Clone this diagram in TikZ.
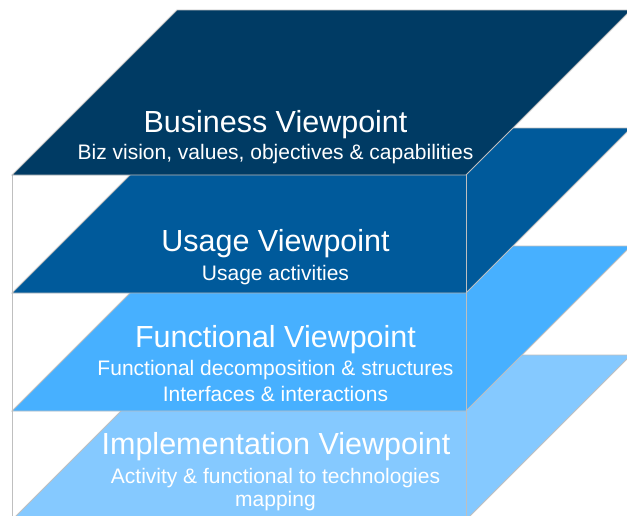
\documentclass[tikz,border=0pt]{standalone}
\usepackage{fontspec}
\setmainfont{Liberation Sans}
\definecolor{bizC}{RGB}{0,59,100}
\definecolor{useC}{RGB}{0,90,155}
\definecolor{funC}{RGB}{71,176,255}
\definecolor{impC}{RGB}{133,201,255}
\definecolor{edgeC}{RGB}{191,191,191}
\tikzset{
  layer/.style={draw=edgeC, line width=0.8pt, line join=miter},
  boxline/.style={draw=edgeC, line width=0.8pt},
  title/.style={text=white, anchor=base, inner sep=0pt, font=\fontsize{30.5}{36}\selectfont},
  sub/.style={text=white, anchor=base, inner sep=0pt, font=\fontsize{21}{25}\selectfont}
}
\begin{document}
\begin{tikzpicture}[x=1pt, y=-1pt]
\useasboundingbox (0,0) rectangle (627,515);
\clip (0,0) rectangle (627,515);
% layers, bottom first
\fill[white] (0,0) rectangle (627,515);
\filldraw[layer, fill=impC] (177,355) -- (631,355) -- (466,520) -- (12,520) -- cycle;
\filldraw[layer, fill=funC] (177,246) -- (631,246) -- (466,411) -- (12,411) -- cycle;
\filldraw[layer, fill=useC] (177,128) -- (631,128) -- (466,293) -- (12,293) -- cycle;
% front box edges
\coordinate (bl) at (12,175);
\coordinate (bl2) at (12,516);
\coordinate (br) at (466,175);
\coordinate (br2) at (466,516);
\draw[boxline] (bl) -- (bl2);
\draw[boxline] (br) -- (br2);
\filldraw[layer, fill=bizC] (177,10) -- (631,10) -- (466,175) -- (12,175) -- cycle;
% texts
\node[title] (bizT) at (275.5,132) {Business Viewpoint};
\node[sub] (bizS) at (275.5,159) {Biz vision, values, objectives \& capabilities};
\node[title] (useT) at (275.5,251) {Usage Viewpoint};
\node[sub] (useS) at (275.5,280) {Usage activities};
\node[title] (funT) at (275.5,347) {Functional Viewpoint};
\node[sub] (funS1) at (275.5,375) {Functional decomposition \& structures};
\node[sub] (funS2) at (275.5,401) {Interfaces \& interactions};
\node[title] (impT) at (276,454) {Implementation Viewpoint};
\node[sub] (impS1) at (275.5,483) {Activity \& functional to technologies};
\node[sub] (impS2) at (275.5,506) {mapping};
\end{tikzpicture}
\end{document}
